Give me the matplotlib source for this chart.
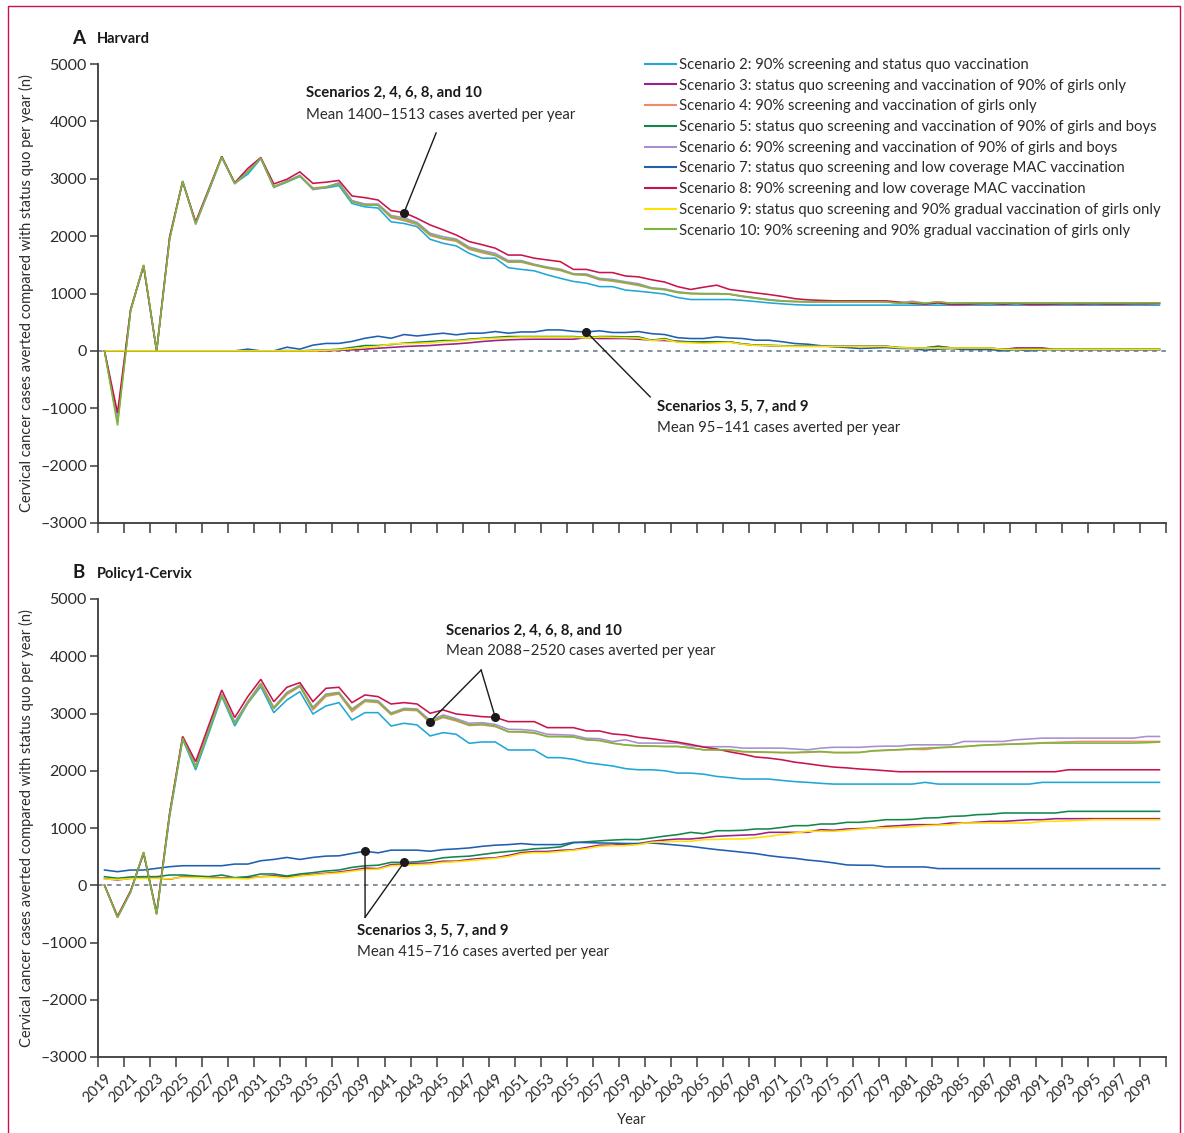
import numpy as np
import matplotlib
matplotlib.use("Agg")
import matplotlib.pyplot as plt
from matplotlib.lines import Line2D
from matplotlib.ticker import FixedLocator, FuncFormatter

plt.rcParams['font.family'] = ['Lato', 'DejaVu Sans']

years = list(range(2019, 2101))

labels = [
    "Scenario 2: 90% screening and status quo vaccination",
    "Scenario 3: status quo screening and vaccination of 90% of girls only",
    "Scenario 4: 90% screening and vaccination of girls only",
    "Scenario 5: status quo screening and vaccination of 90% of girls and boys",
    "Scenario 6: 90% screening and vaccination of 90% of girls and boys",
    "Scenario 7: status quo screening and low coverage MAC vaccination",
    "Scenario 8: 90% screening and low coverage MAC vaccination",
    "Scenario 9: status quo screening and 90% gradual vaccination of girls only",
    "Scenario 10: 90% screening and 90% gradual vaccination of girls only",
]
colors = ['#1fa8d6', '#9c1f8c', '#f28a6a', '#13864a', '#a78ed0',
          '#1f5fb0', '#c8144b', '#ffe100', '#79b83b']

# ---------------- Panel A: Harvard ----------------
A_S2 = [0, -1200, 700, 1480, 0, 1950, 2950, 2230, 2780, 3370,
        2920, 3080, 3350, 2850, 2940, 3040, 2820, 2840, 2880, 2570,
        2510, 2490, 2250, 2220, 2165, 1945, 1875, 1830, 1700, 1615,
        1615, 1450, 1420, 1395, 1325, 1265, 1210, 1180, 1120, 1120,
        1060, 1040, 1017, 990, 930, 895, 895, 895, 895, 880,
        860, 837, 820, 805, 797, 797, 797, 797, 797, 797,
        797, 797, 797, 797, 797, 797, 797, 797, 797, 797,
        797, 797, 797, 797, 797, 797, 797, 797, 797, 797,
        797, 797]
A_S3 = [0, 0, 0, 0, 0, 0, 0, 0, 0, 0,
        0, 0, 0, 0, 0, 0, 0, 0, 10, 17,
        30, 46, 60, 75, 85, 93, 110, 122, 140, 163,
        180, 192, 200, 203, 203, 203, 203, 232, 215, 215,
        215, 203, 186, 180, 170, 157, 157, 157, 157, 120,
        99, 90, 85, 81, 81, 81, 81, 81, 81, 81,
        81, 52, 52, 52, 81, 52, 52, 52, 52, 23,
        52, 52, 52, 23, 23, 23, 23, 23, 23, 23,
        23, 23]
A_S4 = [0, -1250, 700, 1490, 0, 1960, 2950, 2230, 2800, 3380,
        2920, 3130, 3360, 2870, 2950, 3060, 2840, 2860, 2920, 2610,
        2550, 2540, 2320, 2270, 2200, 2010, 1950, 1910, 1770, 1710,
        1660, 1545, 1545, 1490, 1440, 1400, 1330, 1315, 1240, 1215,
        1180, 1140, 1085, 1065, 1015, 995, 990, 990, 985, 945,
        915, 885, 865, 858, 853, 853, 853, 853, 853, 853,
        853, 830, 845, 830, 850, 830, 832, 832, 832, 832,
        832, 832, 832, 832, 832, 832, 832, 832, 832, 832,
        835, 835]
A_S5 = [0, 0, 0, 0, 0, 0, 0, 0, 0, 0,
        0, 0, 0, 0, 5, 0, 10, 15, 30, 60,
        93, 93, 110, 134, 150, 163, 180, 180, 203, 220,
        235, 250, 250, 250, 250, 250, 250, 232, 250, 250,
        244, 244, 186, 215, 157, 157, 157, 157, 157, 120,
        99, 99, 90, 81, 81, 81, 81, 81, 81, 81,
        81, 60, 52, 52, 75, 52, 52, 52, 40, 30,
        30, 30, 30, 30, 30, 30, 30, 30, 30, 30,
        30, 30]
A_S6 = [0, -1200, 710, 1490, 0, 1970, 2960, 2200, 2790, 3390,
        2910, 3130, 3360, 2850, 2960, 3060, 2810, 2850, 2930, 2620,
        2560, 2560, 2360, 2320, 2240, 2050, 1990, 1950, 1810, 1750,
        1700, 1575, 1575, 1510, 1460, 1425, 1345, 1340, 1265, 1245,
        1205, 1170, 1100, 1080, 1030, 1005, 1000, 1000, 990, 955,
        925, 895, 873, 862, 857, 857, 857, 857, 857, 857,
        857, 835, 865, 832, 850, 832, 838, 838, 838, 838,
        838, 838, 838, 838, 838, 838, 838, 838, 838, 838,
        838, 838]
A_S7 = [0, 0, 0, 0, 0, 0, 0, 0, 0, 0,
        0, 30, 0, 0, 64, 30, 100, 130, 130, 165,
        220, 255, 220, 285, 260, 285, 308, 280, 308, 308,
        337, 308, 330, 330, 365, 365, 340, 330, 350, 320,
        320, 337, 300, 285, 230, 215, 215, 244, 225, 215,
        186, 186, 160, 128, 116, 90, 70, 58, 41, 50,
        58, 41, 41, 12, 30, 41, 23, 23, 23, 0,
        23, 0, 20, 20, 20, 20, 20, 20, 20, 20,
        20, 20]
A_S8 = [0, -1080, 720, 1480, 0, 1990, 2950, 2250, 2820, 3390,
        2930, 3180, 3370, 2910, 2990, 3120, 2920, 2940, 2970, 2700,
        2670, 2630, 2445, 2410, 2310, 2195, 2110, 2020, 1905, 1850,
        1790, 1670, 1670, 1615, 1585, 1555, 1420, 1420, 1365, 1365,
        1305, 1290, 1240, 1200, 1120, 1070, 1110, 1145, 1070, 1040,
        1010, 983, 950, 910, 890, 880, 872, 872, 872, 872,
        872, 850, 830, 815, 835, 808, 810, 820, 825, 812,
        826, 808, 810, 815, 820, 815, 820, 815, 815, 820,
        820, 826]
A_S9 = [0, 0, 0, 0, 0, 0, 0, 0, 0, 0,
        0, 0, 0, 0, 0, 0, 0, 10, 20, 40,
        60, 80, 120, 125, 130, 140, 160, 170, 190, 210,
        220, 230, 240, 240, 240, 240, 240, 225, 240, 235,
        230, 225, 180, 200, 150, 140, 130, 140, 150, 115,
        95, 95, 85, 78, 78, 78, 78, 78, 78, 78,
        78, 55, 50, 50, 50, 50, 50, 50, 50, 25,
        25, 25, 25, 25, 25, 25, 25, 25, 25, 25,
        25, 25]
A_S10 = [0, -1300, 700, 1500, 0, 1950, 2960, 2220, 2800, 3380,
         2920, 3120, 3360, 2860, 2950, 3050, 2830, 2850, 2910, 2600,
         2540, 2540, 2340, 2290, 2220, 2030, 1960, 1930, 1790, 1730,
         1670, 1555, 1555, 1500, 1450, 1410, 1335, 1325, 1250, 1225,
         1190, 1150, 1090, 1070, 1020, 1000, 995, 995, 988, 950,
         920, 890, 870, 860, 855, 855, 855, 855, 855, 855,
         855, 830, 850, 830, 855, 830, 835, 835, 835, 835,
         835, 835, 835, 835, 835, 835, 835, 835, 835, 835,
         837, 837]

# ---------------- Panel B: Policy1-Cervix ----------------
B_S2 = [0, -560, -120, 560, -500, 1200, 2550, 2014, 2650, 3295,
        2782, 3178, 3469, 3015, 3236, 3382, 2992, 3132, 3190, 2887,
        3015, 3015, 2782, 2829, 2800, 2608, 2666, 2637, 2480, 2503,
        2503, 2363, 2363, 2363, 2229, 2229, 2200, 2142, 2113, 2084,
        2037, 2017, 2017, 2000, 1959, 1959, 1940, 1901, 1880, 1855,
        1855, 1855, 1831, 1810, 1797, 1780, 1767, 1767, 1767, 1767,
        1767, 1767, 1767, 1797, 1767, 1767, 1767, 1767, 1767, 1767,
        1767, 1767, 1797, 1797, 1797, 1797, 1797, 1797, 1797, 1797,
        1797, 1797]
B_S3 = [116, 92, 121, 133, 127, 104, 150, 150, 140, 130,
        130, 130, 150, 165, 150, 170, 190, 210, 230, 262,
        300, 290, 360, 370, 380, 390, 420, 420, 450, 470,
        480, 520, 570, 590, 590, 610, 620, 660, 700, 700,
        720, 727, 767, 790, 808, 808, 830, 855, 866, 875,
        884, 924, 924, 924, 924, 971, 959, 983, 990, 1000,
        1029, 1040, 1058, 1058, 1058, 1087, 1087, 1100, 1116, 1116,
        1130, 1145, 1145, 1163, 1163, 1163, 1163, 1163, 1163, 1163,
        1163, 1163]
B_S4 = [0, -550, -110, 570, -500, 1240, 2580, 2080, 2710, 3320,
        2840, 3180, 3500, 3080, 3330, 3470, 3060, 3300, 3340, 3030,
        3210, 3190, 2980, 3060, 3050, 2840, 2930, 2870, 2790, 2800,
        2770, 2680, 2675, 2655, 2600, 2600, 2590, 2545, 2525, 2485,
        2450, 2430, 2430, 2424, 2424, 2400, 2366, 2360, 2360, 2330,
        2325, 2320, 2315, 2315, 2320, 2330, 2315, 2315, 2320, 2345,
        2355, 2365, 2375, 2370, 2400, 2410, 2420, 2440, 2450, 2460,
        2470, 2480, 2490, 2495, 2505, 2512, 2512, 2512, 2512, 2512,
        2512, 2512]
B_S5 = [150, 121, 145, 150, 150, 179, 179, 162, 150, 179,
        133, 150, 197, 197, 162, 197, 220, 249, 266, 312,
        340, 350, 400, 400, 410, 438, 480, 497, 508, 538,
        567, 590, 608, 637, 650, 670, 742, 760, 775, 789,
        800, 797, 826, 858, 884, 924, 901, 953, 953, 960,
        983, 983, 1010, 1041, 1041, 1070, 1070, 1099, 1099, 1120,
        1145, 1145, 1150, 1174, 1180, 1203, 1210, 1233, 1240, 1262,
        1262, 1262, 1262, 1262, 1291, 1291, 1291, 1291, 1291, 1291,
        1291, 1291]
B_S6 = [0, -560, -115, 575, -505, 1240, 2585, 2090, 2720, 3340,
        2850, 3210, 3530, 3110, 3370, 3495, 3110, 3340, 3370, 3080,
        3240, 3225, 3010, 3090, 3080, 2880, 2975, 2910, 2830, 2840,
        2810, 2724, 2720, 2700, 2637, 2630, 2620, 2567, 2560, 2510,
        2541, 2483, 2483, 2483, 2483, 2436, 2420, 2420, 2420, 2395,
        2395, 2395, 2395, 2380, 2366, 2395, 2410, 2410, 2410, 2424,
        2430, 2430, 2453, 2453, 2453, 2453, 2512, 2512, 2512, 2512,
        2541, 2555, 2570, 2570, 2570, 2570, 2570, 2570, 2570, 2570,
        2599, 2599]
B_S7 = [266, 237, 266, 266, 295, 324, 341, 341, 341, 341,
        370, 370, 428, 451, 486, 451, 486, 509, 514, 555,
        595, 566, 613, 613, 613, 594, 623, 635, 652, 680,
        700, 710, 728, 710, 710, 710, 750, 745, 739, 735,
        730, 728, 738, 720, 700, 680, 650, 623, 600, 576,
        553, 517, 490, 471, 440, 419, 390, 355, 350, 349,
        320, 320, 320, 320, 291, 291, 291, 291, 291, 291,
        291, 291, 291, 291, 291, 291, 291, 291, 291, 291,
        291, 291]
B_S8 = [0, -540, -100, 560, -480, 1260, 2600, 2160, 2790, 3410,
        2930, 3295, 3597, 3207, 3458, 3539, 3207, 3440, 3458, 3190,
        3324, 3295, 3166, 3190, 3166, 3004, 3062, 2992, 2969, 2945,
        2934, 2858, 2858, 2858, 2753, 2753, 2753, 2695, 2695, 2643,
        2625, 2584, 2560, 2530, 2500, 2460, 2413, 2380, 2330, 2290,
        2240, 2221, 2192, 2150, 2122, 2090, 2064, 2050, 2030, 2017,
        2000, 1983, 1983, 1983, 1983, 1983, 1983, 1983, 1983, 1983,
        1983, 1983, 1983, 1983, 2017, 2017, 2017, 2017, 2017, 2017,
        2017, 2017]
B_S9 = [110, 100, 115, 120, 120, 110, 140, 135, 125, 120,
        120, 110, 150, 150, 125, 160, 180, 200, 215, 245,
        275, 280, 340, 350, 360, 370, 400, 410, 430, 450,
        470, 500, 550, 570, 570, 590, 610, 640, 680, 690,
        692, 709, 750, 760, 767, 767, 797, 800, 808, 808,
        830, 855, 884, 913, 942, 942, 942, 960, 980, 1000,
        1005, 1012, 1020, 1041, 1050, 1058, 1087, 1087, 1087, 1087,
        1087, 1087, 1116, 1116, 1125, 1134, 1145, 1145, 1145, 1145,
        1145, 1145]
B_S10 = [0, -560, -120, 580, -510, 1230, 2570, 2060, 2700, 3324,
         2829, 3190, 3516, 3091, 3353, 3481, 3091, 3324, 3353, 3062,
         3225, 3207, 2992, 3073, 3062, 2858, 2945, 2887, 2800, 2817,
         2782, 2683, 2683, 2666, 2596, 2596, 2590, 2538, 2530, 2480,
         2450, 2436, 2430, 2424, 2424, 2400, 2366, 2366, 2366, 2337,
         2330, 2325, 2320, 2320, 2330, 2337, 2320, 2320, 2320, 2350,
         2360, 2370, 2385, 2395, 2405, 2415, 2424, 2440, 2453, 2460,
         2465, 2471, 2483, 2483, 2483, 2483, 2483, 2483, 2483, 2483,
         2490, 2500]

panelA = [A_S2, A_S3, A_S4, A_S5, A_S6, A_S7, A_S8, A_S9, A_S10]
panelB = [B_S2, B_S3, B_S4, B_S5, B_S6, B_S7, B_S8, B_S9, B_S10]

yticks = [-3000, -2000, -1000, 0, 1000, 2000, 3000, 4000, 5000]
tick_years = list(range(2019, 2100, 2))

W, H = 1184, 1133
fig = plt.figure(figsize=(W / 100, H / 100), dpi=100)

AX_COL = '#3a3a3a'
TXT = '#2b2b2b'


def fx(px):
    return px / W


def fy(py):
    return 1 - py / H


def setup(ax):
    ax.set_xlim(2018.5, 2100.5)
    ax.set_ylim(-3000, 5000)
    for s in ['top', 'right']:
        ax.spines[s].set_visible(False)
    for s in ['left', 'bottom']:
        ax.spines[s].set_color(AX_COL)
        ax.spines[s].set_linewidth(1.3)
    ax.set_yticks(yticks)
    ax.yaxis.set_major_formatter(FuncFormatter(
        lambda v, p: ('\u2013%d' % abs(v)) if v < 0 else '%d' % v))
    ax.tick_params(axis='y', direction='out', length=6, width=1.1,
                   color=AX_COL, labelsize=11.5, labelcolor=TXT, pad=2)
    ax.xaxis.set_major_locator(FixedLocator(np.arange(2018.5, 2101, 2)))
    ax.tick_params(axis='x', which='major', direction='out', length=7,
                   width=1.1, color=AX_COL, labelbottom=False)
    ax.axhline(0, color='#5f7282', lw=1.1, dashes=(3, 3), zorder=0.5)
    ax.set_ylabel('Cervical cancer cases averted compared with status quo per year (n)',
                  fontsize=10.5, color=TXT, labelpad=4)
    ax.patch.set_alpha(0)


axA = fig.add_axes([fx(98), fy(523), fx(1166) - fx(98), fy(64) - fy(523)])
axB = fig.add_axes([fx(98), fy(1057), fx(1166) - fx(98), fy(599) - fy(1057)])

for ax, data in [(axA, panelA), (axB, panelB)]:
    setup(ax)
    for vals, c, lab in zip(data, colors, labels):
        ax.plot(years, vals, color=c, lw=1.15, label=lab, solid_joinstyle='miter')

# x tick labels on panel B
axB.set_xticks(tick_years, minor=True)
axB.set_xticklabels([str(y) for y in tick_years], minor=True, rotation=45,
                    ha='right', rotation_mode='anchor', fontsize=10.5, color=TXT)
axB.tick_params(axis='x', which='minor', length=0, pad=10)
axB.set_xlabel('Year', fontsize=10.5, color=TXT, labelpad=6)
axA.tick_params(axis='x', which='minor', length=0)

# panel titles
fig.text(fx(72), fy(38), 'A', fontsize=13.5, fontweight='bold', color='#1a1a1a', va='center')
fig.text(fx(97), fy(39), 'Harvard', fontsize=10.5, fontweight='bold', color='#1a1a1a', va='center')
fig.text(fx(72), fy(573), 'B', fontsize=13.5, fontweight='bold', color='#1a1a1a', va='center')
fig.text(fx(97), fy(574), 'Policy1-Cervix', fontsize=10.5, fontweight='bold', color='#1a1a1a', va='center')

# legend
handles = [Line2D([0], [0], color=c, lw=1.5) for c in colors]
fig.legend(handles, labels, loc='upper left', bbox_to_anchor=(fx(645), fy(58)),
           frameon=False, fontsize=10.7, handlelength=2.1, handletextpad=0.2,
           labelspacing=0.45, borderaxespad=0, borderpad=0, labelcolor=TXT)


def annotate(ax, dots, apex, tx, t1, t2):
    for (xd, yd) in dots:
        ax.plot([xd, apex[0]], [yd, apex[1]], color='#1a1a1a', lw=1.0, zorder=5)
        ax.plot([xd], [yd], 'o', color='#1a1a1a', ms=5.5, zorder=6)
    ax.text(tx[0], tx[1], t1, fontsize=10.7, fontweight='bold', color='#1a1a1a',
            ha='left', va='center')
    ax.text(tx[0], tx[2], t2, fontsize=10.7, color=TXT, ha='left', va='center')


def yr(px):
    return 2019 + (px - 104.5) / 13.02


annotate(axA, [(2042, A_S8[2042 - 2019])], (yr(436), (351 - 133) / 57.4 * 1000),
         (yr(306), (351 - 93) / 57.4 * 1000, (351 - 115) / 57.4 * 1000),
         'Scenarios 2, 4, 6, 8, and 10', 'Mean 1400\u20131513 cases averted per year')
annotate(axA, [(2056, A_S7[2056 - 2019])], (yr(650), (351 - 397) / 57.4 * 1000),
         (yr(657), (351 - 407) / 57.4 * 1000, (351 - 428) / 57.4 * 1000),
         'Scenarios 3, 5, 7, and 9', 'Mean 95\u2013141 cases averted per year')
annotate(axB, [(2044, B_S10[2044 - 2019]), (2049, B_S8[2049 - 2019])],
         (yr(481), (885 - 670) / 57.2 * 1000),
         (yr(446), (885 - 631) / 57.2 * 1000, (885 - 651) / 57.2 * 1000),
         'Scenarios 2, 4, 6, 8, and 10', 'Mean 2088\u20132520 cases averted per year')
annotate(axB, [(2039, B_S7[2039 - 2019]), (2042, B_S5[2042 - 2019])],
         (yr(365), (885 - 917) / 57.2 * 1000),
         (yr(357), (885 - 931) / 57.2 * 1000, (885 - 952) / 57.2 * 1000),
         'Scenarios 3, 5, 7, and 9', 'Mean 415\u2013716 cases averted per year')

# frame border (open at bottom)
bc = '#c8144b'
fig.add_artist(Line2D([fx(8), fx(8), fx(1180), fx(1180)],
                      [0, fy(6), fy(6), 0], color=bc, lw=1.0,
                      transform=fig.transFigure))

fig.savefig('out.png', dpi=100)
